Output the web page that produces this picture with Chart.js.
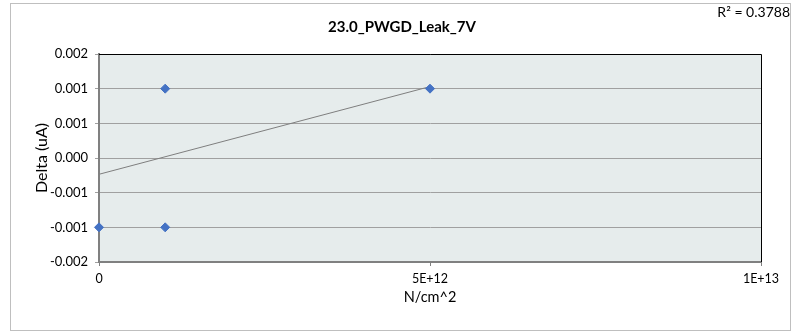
<!DOCTYPE html>
<html>
<head>
<meta charset="utf-8">
<script src="https://cdn.jsdelivr.net/npm/chart.js@4/dist/chart.umd.min.js"></script>
<style>
html,body{margin:0;padding:0;background:#fff;}
#wrap{position:relative;width:793px;height:333px;}
</style>
</head>
<body>
<div id="wrap"><canvas id="c" width="793" height="333"></canvas></div>
<script>
// Data
const pointX = [0, 1e12, 1e12, 5e12];
const pointY = [-0.001, 0.001, -0.001, 0.001];
const trendX = [0, 5e12];
const trendY = [-0.000235, 0.00103];
const yTickValues = [-0.0015, -0.001, -0.0005, 0, 0.0005, 0.001, 0.0015];
const yTickLabels = ['-0.002', '-0.001', '-0.001', '0.000', '0.001', '0.001', '0.002'];
const xTickValues = [0, 5e12, 1e13];
const xTickLabels = ['0', '5E+12', '1E+13'];
const chartTitle = '23.0_PWGD_Leak_7V';
const rSquaredText = 'R² = 0.3788';
const xTitle = 'N/cm^2';
const yTitle = 'Delta (uA)';

const FONT = 'Lato, "Open Sans", "Liberation Sans", sans-serif';

const frame = {
  id: 'frame',
  beforeDraw(chart) {
    const ctx = chart.ctx, a = chart.chartArea;
    ctx.save();
    ctx.fillStyle = '#fff';
    ctx.fillRect(0, 0, chart.width, chart.height);
    ctx.strokeStyle = '#BFBFBF';
    ctx.lineWidth = 1;
    ctx.strokeRect(10.5, 3.5, 780, 327);
    ctx.fillStyle = '#E6ECEC';
    ctx.fillRect(a.left, a.top, a.right - a.left, a.bottom - a.top);
    ctx.restore();
  },
  beforeDatasetsDraw(chart) {
    const ctx = chart.ctx, a = chart.chartArea;
    ctx.save();
    ctx.strokeStyle = '#000';
    ctx.lineWidth = 1;
    ctx.beginPath();
    ctx.moveTo(a.left, a.top + 0.5);
    ctx.lineTo(a.right + 0.5, a.top + 0.5);
    ctx.lineTo(a.right + 0.5, a.bottom);
    ctx.stroke();
    ctx.fillStyle = '#000';
    ctx.textBaseline = 'middle';
    ctx.font = 'bold 15px ' + FONT;
    ctx.textAlign = 'center';
    ctx.fillText(chartTitle, 402, 27);
    ctx.font = '14px ' + FONT;
    ctx.textAlign = 'right';
    ctx.fillText(rSquaredText, 790, 12);
    ctx.restore();
  }
};

new Chart(document.getElementById('c'), {
  type: 'scatter',
  data: {
    datasets: [
      {
        type: 'line',
        label: 'Trend',
        data: trendX.map((x, i) => ({x, y: trendY[i]})),
        borderColor: '#7F7F7F',
        borderWidth: 1,
        pointRadius: 0,
        fill: false,
        order: 2
      },
      {
        label: 'Delta',
        data: pointX.map((x, i) => ({x, y: pointY[i]})),
        pointStyle: 'rectRot',
        pointRadius: 4.5,
        backgroundColor: '#4472C4',
        borderColor: '#4472C4',
        borderWidth: 1,
        clip: false,
        order: 1
      }
    ]
  },
  options: {
    responsive: false,
    animation: false,
    events: [],
    layout: { padding: { left: 10, right: 32, top: 54, bottom: 25 } },
    plugins: {
      legend: { display: false },
      tooltip: { enabled: false },
      title: { display: false }
    },
    scales: {
      x: {
        type: 'linear',
        min: 0,
        max: 1e13,
        afterFit(s) { s.height = 46; },
        afterBuildTicks(s) { s.ticks = xTickValues.map(v => ({value: v})); },
        ticks: {
          color: '#000',
          font: { family: FONT, size: 12.5 },
          padding: 5,
          maxRotation: 0,
          callback: (v, i) => xTickLabels[i]
        },
        grid: { drawOnChartArea: false, drawTicks: true, tickLength: 4, color: '#808080' },
        border: { display: true, color: '#808080', width: 2 },
        title: {
          display: true,
          text: xTitle,
          color: '#000',
          font: { family: FONT, size: 14.5 },
          padding: { top: 2, bottom: 2 }
        }
      },
      y: {
        type: 'linear',
        min: -0.0015,
        max: 0.0015,
        afterFit(s) { s.width = 89; },
        afterBuildTicks(s) { s.ticks = yTickValues.map(v => ({value: v})); },
        ticks: {
          color: '#000',
          font: { family: FONT, size: 13 },
          padding: 7,
          callback: (v, i) => yTickLabels[i]
        },
        grid: { color: '#A0A0A0', lineWidth: 1, tickLength: 4, drawTicks: true },
        border: { display: true, color: '#808080', width: 2 },
        title: {
          display: true,
          text: yTitle,
          color: '#000',
          font: { family: FONT, size: 16 },
          padding: { top: 22, bottom: 0 }
        }
      }
    }
  },
  plugins: [frame]
});
</script>
</body>
</html>
